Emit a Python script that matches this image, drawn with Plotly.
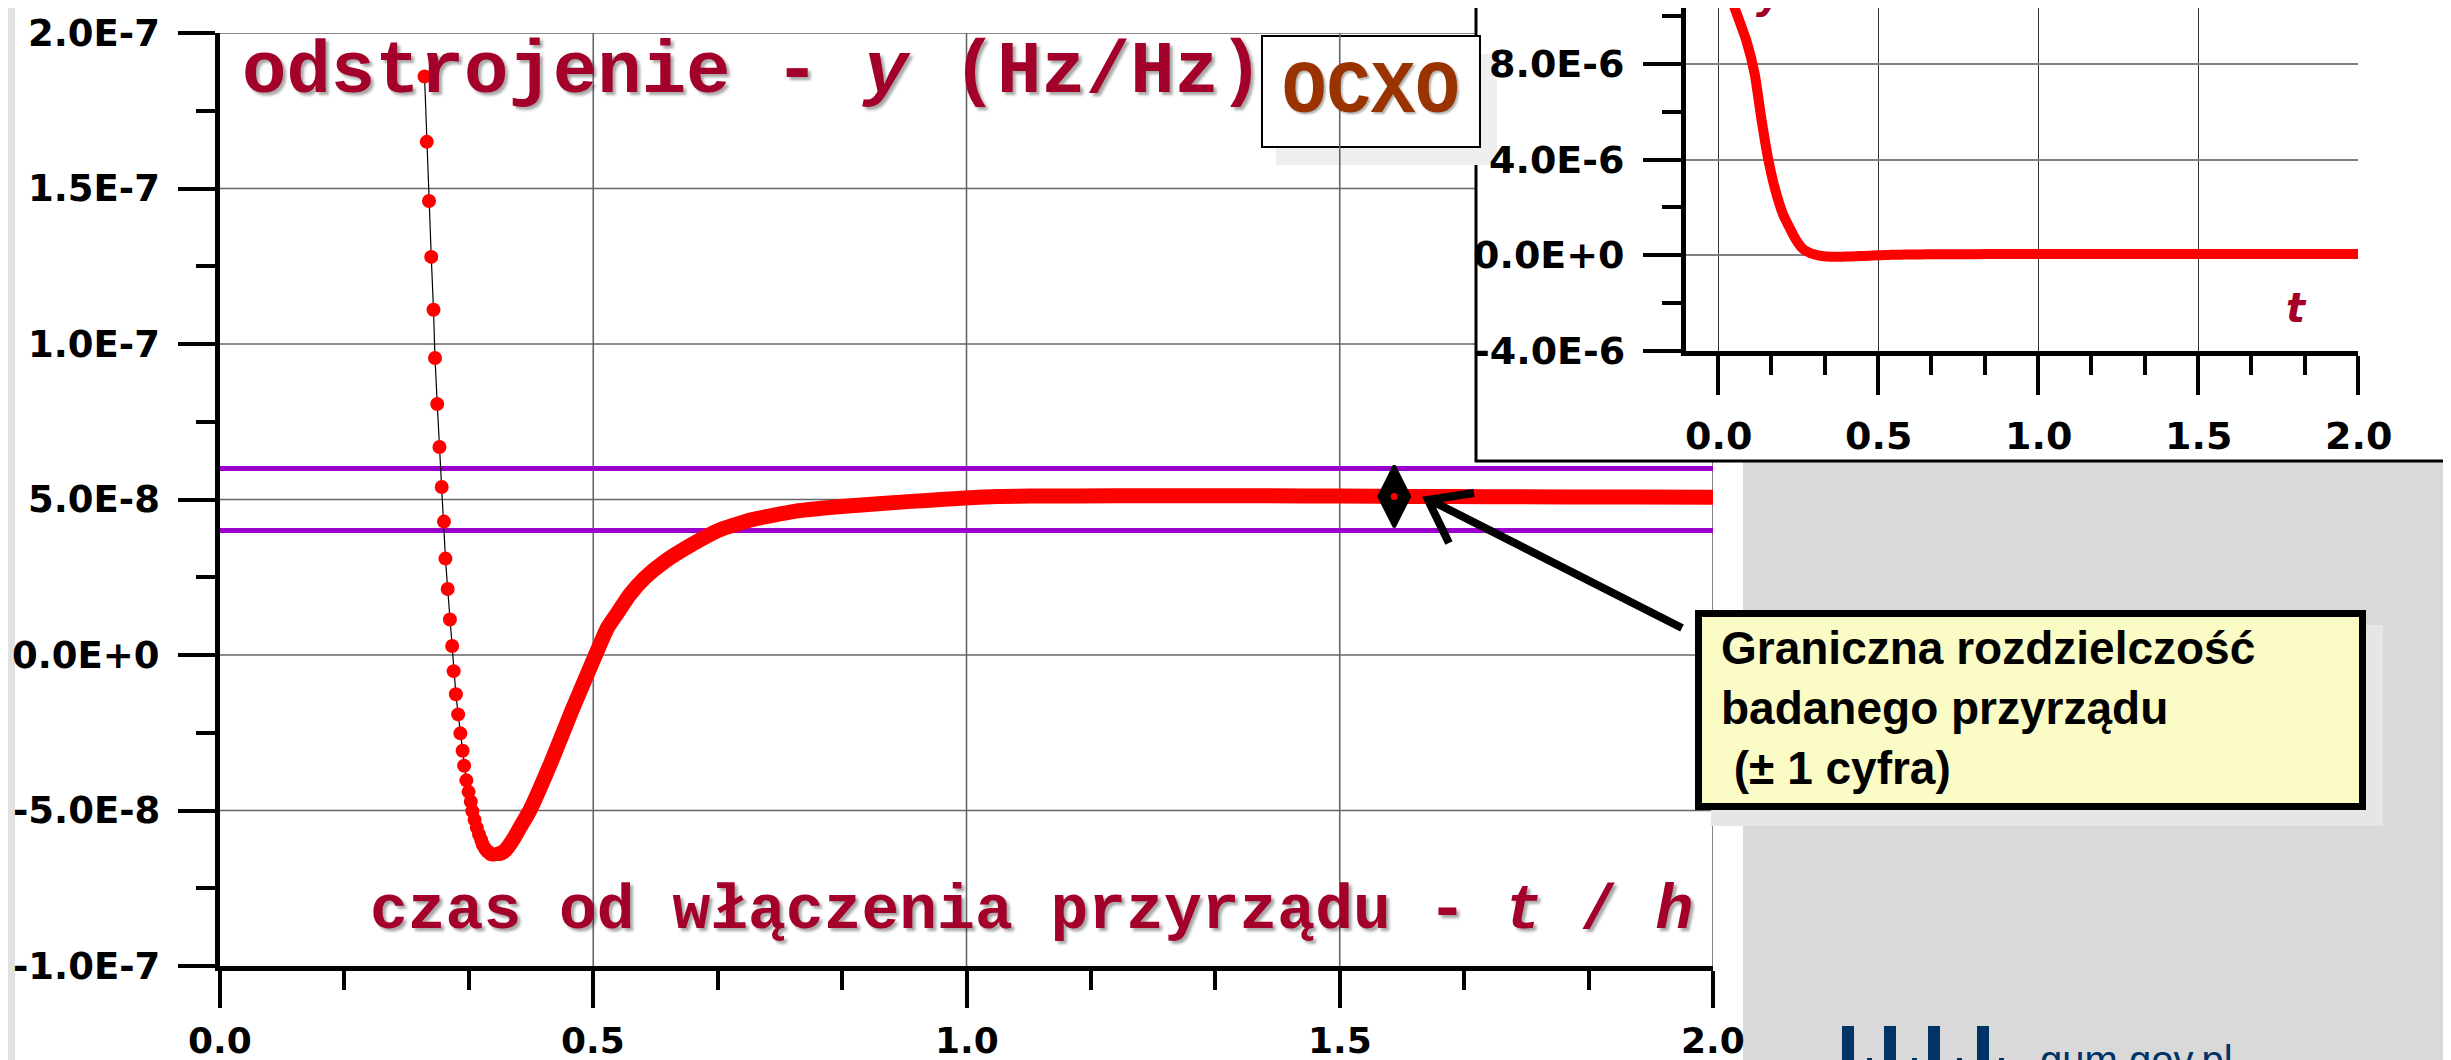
import plotly.graph_objects as go

W, H = 2451, 1060

# ---------------- data ----------------
# sparse dots at the beginning of the main chart (t in h, y in Hz/Hz)
t_early = [0.274, 0.277, 0.280, 0.283, 0.286, 0.288, 0.291, 0.294, 0.297, 0.300,
           0.302, 0.305, 0.308, 0.311, 0.313, 0.316, 0.319, 0.322, 0.325, 0.327,
           0.330, 0.333, 0.336, 0.338, 0.341, 0.344, 0.347, 0.350, 0.352, 0.355,
           0.358, 0.361, 0.363, 0.366, 0.369, 0.372]
y_early = [1.86e-7, 1.65e-7, 1.46e-7, 1.28e-7, 1.11e-7, 9.55e-8, 8.07e-8, 6.69e-8, 5.40e-8, 4.29e-8,
           3.10e-8, 2.12e-8, 1.14e-8, 0.29e-8, -0.52e-8, -1.26e-8, -1.91e-8, -2.52e-8, -3.08e-8, -3.56e-8,
           -4.03e-8, -4.40e-8, -4.72e-8, -5.02e-8, -5.30e-8, -5.55e-8, -5.77e-8, -5.95e-8, -6.10e-8, -6.22e-8,
           -6.31e-8, -6.37e-8, -6.41e-8, -6.42e-8, -6.41e-8, -6.40e-8]

# dense part (drawn as a thick band)
t_dense = [0.372, 0.378, 0.385, 0.393, 0.403, 0.415, 0.444, 0.471, 0.503, 0.519,
           0.533, 0.549, 0.569, 0.596, 0.632, 0.667, 0.712, 0.770, 0.837, 0.926,
           1.042, 1.100, 1.200, 1.300, 1.400, 1.500, 1.600, 1.700, 1.800, 1.900, 2.000]
y_dense = [-6.40e-8, -6.36e-8, -6.20e-8, -5.92e-8, -5.50e-8, -5.00e-8, -3.42e-8, -1.81e-8, 0.00e-8, 0.87e-8,
           1.37e-8, 1.94e-8, 2.48e-8, 3.01e-8, 3.55e-8, 4.00e-8, 4.35e-8, 4.62e-8, 4.78e-8, 4.94e-8,
           5.10e-8, 5.11e-8, 5.12e-8, 5.12e-8, 5.12e-8, 5.11e-8, 5.10e-8, 5.09e-8, 5.08e-8, 5.08e-8, 5.07e-8]

# warm-up part only visible in the inset
t_warm = [0.000, 0.030, 0.052, 0.089, 0.115, 0.135, 0.156, 0.177, 0.203, 0.240, 0.260]
y_warm = [1.16e-5, 1.11e-5, 1.033e-5, 8.95e-6, 7.55e-6, 5.75e-6, 4.08e-6, 2.83e-6, 1.72e-6, 0.73e-6, 0.34e-6]

# resolution limits (+/- 1 digit)
limit_x = [0.0, 2.0]
limit_hi = [6e-8, 6e-8]
limit_lo = [4e-8, 4e-8]

# highlighted point
mark_t = [1.573]
mark_y = [5.1e-8]

# ticks
main_xticks = [0.0, 0.5, 1.0, 1.5, 2.0]
main_xlabels = ["0.0", "0.5", "1.0", "1.5", "2.0"]
main_yticks = [-1e-7, -5e-8, 0.0, 5e-8, 1e-7, 1.5e-7, 2e-7]
main_ylabels = ["-1.0E-7", "-5.0E-8", "0.0E+0", "5.0E-8", "1.0E-7", "1.5E-7", "2.0E-7"]
main_yminor = [-7.5e-8, -2.5e-8, 2.5e-8, 7.5e-8, 1.25e-7, 1.75e-7]
inset_yticks = [-4e-6, 0.0, 4e-6, 8e-6]
inset_ylabels = ["-4.0E-6", "0.0E+0", "4.0E-6", "8.0E-6"]
inset_yminor = [-2e-6, 2e-6, 6e-6, 1e-5]
x_minor = [k / 6 for k in range(1, 12) if k % 3 != 0]

inset_t = t_warm + t_early + t_dense
inset_y = y_warm + y_early + y_dense

# ---------------- helpers ----------------
def px(x):
    return x / W


def py(y):
    return 1 - y / H


RED = "#FF0000"
DARKRED = "#A3002A"
FONT_FAM = "DejaVu Sans, Verdana, sans-serif"
TICKFONT = dict(family=FONT_FAM, size=37, color="black", weight="bold")
XTICKFONT = dict(family=FONT_FAM, size=36, color="black", weight="bold")
INSETFONT = dict(family=FONT_FAM, size=38, color="black", weight="bold")

fig = go.Figure()

# main chart traces
fig.add_trace(go.Scatter(x=limit_x, y=limit_hi, mode="lines", line=dict(color="#9900CC", width=5),
                         xaxis="x", yaxis="y", hoverinfo="skip"))
fig.add_trace(go.Scatter(x=limit_x, y=limit_lo, mode="lines", line=dict(color="#9900CC", width=5),
                         xaxis="x", yaxis="y", hoverinfo="skip"))
fig.add_trace(go.Scatter(x=t_dense, y=y_dense, mode="lines",
                         line=dict(color=RED, width=15, shape="spline", smoothing=0.5),
                         xaxis="x", yaxis="y"))
fig.add_trace(go.Scatter(x=t_early, y=y_early, mode="lines+markers",
                         line=dict(color="black", width=1.2),
                         marker=dict(color=RED, size=14, line=dict(width=0)),
                         xaxis="x", yaxis="y"))
fig.add_trace(go.Scatter(x=mark_t, y=mark_y, mode="markers",
                         marker=dict(symbol="diamond-tall", size=44, color="black",
                                     line=dict(color="black", width=3)),
                         xaxis="x", yaxis="y"))
fig.add_trace(go.Scatter(x=mark_t, y=mark_y, mode="markers",
                         marker=dict(symbol="circle", size=9, color=RED,
                                     line=dict(color="black", width=2)),
                         xaxis="x", yaxis="y"))

# inset trace
fig.add_trace(go.Scatter(x=inset_t, y=inset_y, mode="lines",
                         line=dict(color=RED, width=10, shape="spline", smoothing=0.5),
                         xaxis="x2", yaxis="y2"))

# ---------------- shapes ----------------
shapes = []
# left grey strip and grey region bottom-right
shapes.append(dict(type="rect", xref="paper", yref="paper", x0=0, x1=px(7), y0=0, y1=1,
                   fillcolor="#E2E2E2", line=dict(width=0), layer="below"))
shapes.append(dict(type="rect", xref="paper", yref="paper", x0=px(1735), x1=1, y0=0, y1=py(453),
                   fillcolor="#D9D9D9", line=dict(width=0), layer="below"))

GRID = dict(color="#666666", width=1.6)
# main horizontal grid lines (cut by the inset where needed)
for v in main_yticks[1:]:
    right = 1468 if v > 6e-8 else 1705
    shapes.append(dict(type="line", xref="paper", yref="y", x0=px(212), x1=px(right), y0=v, y1=v,
                       line=GRID, layer="below"))
# main vertical grid lines
for v in main_xticks[1:]:
    if v < 2.0:
        shapes.append(dict(type="line", xref="x", yref="y", x0=v, x1=v, y0=-1e-7, y1=2e-7,
                           line=GRID, layer="below"))
    else:
        shapes.append(dict(type="line", xref="x", yref="paper", x0=v, x1=v, y0=py(958), y1=py(453),
                           line=GRID, layer="below"))

# inset frame
shapes.append(dict(type="rect", xref="paper", yref="paper", x0=px(1468), x1=px(2448), y0=py(453), y1=py(-10),
                   fillcolor="white", line=dict(color="black", width=3), layer="below"))
# OCXO box with shadow
shapes.append(dict(type="rect", xref="paper", yref="paper", x0=px(1268), x1=px(1489), y0=py(157), y1=py(46),
                   fillcolor="#EFEFEF", line=dict(width=0), layer="below"))
shapes.append(dict(type="rect", xref="paper", yref="paper", x0=px(1254), x1=px(1472), y0=py(139), y1=py(28),
                   fillcolor="white", line=dict(color="black", width=2), layer="below"))
# yellow note with shadow
shapes.append(dict(type="rect", xref="paper", yref="paper", x0=px(1703), x1=px(2375), y0=py(818), y1=py(617),
                   fillcolor="#E6E6E6", line=dict(width=0), layer="above"))
shapes.append(dict(type="rect", xref="paper", yref="paper", x0=px(1690.5), x1=px(2354.5), y0=py(798.5), y1=py(605.5),
                   fillcolor="#FBFBC6", line=dict(color="black", width=7), layer="above"))
# arrow
arrow_path = (f"M {px(1674):.5f},{py(620):.5f} L {px(1422):.5f},{py(492):.5f} "
              f"M {px(1466):.5f},{py(485):.5f} L {px(1420):.5f},{py(492):.5f} L {px(1441):.5f},{py(535):.5f}")
shapes.append(dict(type="path", xref="paper", yref="paper", path=arrow_path,
                   line=dict(color="black", width=8), layer="above"))
# logo bars
LOGO = "#003366"
for xb, top, wdt in [(1834, 1018, 12), (1859, 1050, 5), (1876, 1018, 12), (1904, 1050, 5),
                     (1920, 1018, 12), (1949, 1050, 5), (1969, 1018, 12), (1991, 1050, 5)]:
    shapes.append(dict(type="rect", xref="paper", yref="paper", x0=px(xb), x1=px(xb + wdt),
                       y0=py(1062), y1=py(top), fillcolor=LOGO, line=dict(width=0), layer="above"))

# ---------------- annotations ----------------
annotations = []
# tick labels placed as text next to the plotly ticks
for v, lab in zip(main_yticks, main_ylabels):
    annotations.append(dict(xref="paper", yref="y", x=px(154), y=v, xanchor="right", yanchor="middle",
                            text=lab, showarrow=False, font=TICKFONT))
for v, lab in zip(main_xticks, main_xlabels):
    annotations.append(dict(xref="x", yref="paper", x=v, y=py(1032), xanchor="center", yanchor="middle",
                            text=lab, showarrow=False, font=XTICKFONT))
for v, lab in zip(inset_yticks, inset_ylabels):
    annotations.append(dict(xref="paper", yref="y2", x=px(1619), y=v, xanchor="right", yanchor="middle",
                            text=lab, showarrow=False, font=INSETFONT))
for v, lab in zip(main_xticks, main_xlabels):
    annotations.append(dict(xref="x2", yref="paper", x=v, y=py(428), xanchor="center", yanchor="middle",
                            text=lab, showarrow=False, font=INSETFONT))

SHADOW = "3px 3px 3px rgba(0,0,0,0.35)"
annotations.append(dict(xref="paper", yref="paper", x=px(232), y=py(64), xanchor="left", yanchor="middle",
                        text="odstrojenie - <i>y</i> (Hz/Hz)", showarrow=False,
                        font=dict(family="Courier New, Liberation Mono, monospace", size=74,
                                  color=DARKRED, weight="bold", shadow=SHADOW)))
annotations.append(dict(xref="paper", yref="paper", x=px(360), y=py(903), xanchor="left", yanchor="middle",
                        text="czas od włączenia przyrządu - <i>t</i> / <i>h</i>", showarrow=False,
                        font=dict(family="Courier New, Liberation Mono, monospace", size=63,
                                  color=DARKRED, weight="bold", shadow=SHADOW)))
annotations.append(dict(xref="paper", yref="paper", x=px(1363), y=py(84), xanchor="center", yanchor="middle",
                        text="OCXO", showarrow=False,
                        font=dict(family="Courier New, Liberation Mono, monospace", size=74,
                                  color="#993300", weight="bold", shadow="2px 2px 2px rgba(0,0,0,0.3)")))
annotations.append(dict(xref="paper", yref="paper", x=px(2288), y=py(300), xanchor="center", yanchor="middle",
                        text="<i>t</i>", showarrow=False,
                        font=dict(family=FONT_FAM, size=40, color=DARKRED, weight="bold")))
annotations.append(dict(xref="paper", yref="paper", x=px(1762), y=py(-14), xanchor="center", yanchor="middle",
                        text="<i>y</i>", showarrow=False,
                        font=dict(family=FONT_FAM, size=40, color=DARKRED, weight="bold")))
annotations.append(dict(xref="paper", yref="paper", x=px(1711), y=py(700), xanchor="left", yanchor="middle",
                        align="left",
                        text="Graniczna rozdzielczość<br>badanego przyrządu<br>\u00a0(± 1 cyfra)", showarrow=False,
                        font=dict(family="Liberation Sans Narrow, Arial Narrow, Liberation Sans, Arial, sans-serif",
                                  size=46, color="black", weight="bold")))
annotations.append(dict(xref="paper", yref="paper", x=px(2030), y=py(1052), xanchor="left", yanchor="middle",
                        text="gum.gov.pl", showarrow=False,
                        font=dict(family="Liberation Sans, Arial, sans-serif", size=40, color=LOGO)))

minor_common = dict(ticks="outside", ticklen=19, tickwidth=4, tickcolor="black", showgrid=False)
axis_common = dict(ticks="outside", tickwidth=4, tickcolor="black", showticklabels=False,
                   showline=True, linewidth=5, linecolor="black", zeroline=False,
                   automargin=False, fixedrange=True, tickmode="array")

fig.update_layout(
    width=W, height=H, autosize=False,
    margin=dict(l=0, r=0, t=0, b=0, pad=0),
    paper_bgcolor="white", plot_bgcolor="rgba(0,0,0,0)",
    showlegend=False,
    shapes=shapes, annotations=annotations,
    xaxis=dict(domain=[px(212), px(1705)], range=[0, 2.0], anchor="y",
               tickvals=main_xticks, ticklen=37, showgrid=False,
               minor=dict(tickmode="array", tickvals=x_minor, **minor_common), **axis_common),
    yaxis=dict(domain=[py(958), py(25)], range=[-1e-7, 2e-7], anchor="x",
               tickvals=main_yticks, ticklen=37, showgrid=False,
               minor=dict(tickmode="array", tickvals=main_yminor, **minor_common), **axis_common),
    xaxis2=dict(domain=[px(1678), px(2350)], range=[-0.1, 2.0], anchor="y2",
                tickvals=main_xticks, ticklen=39,
                showgrid=True, gridcolor="#333333", gridwidth=1,
                minor=dict(tickmode="array", tickvals=x_minor, **minor_common), **axis_common),
    yaxis2=dict(domain=[py(343), 1.0], range=[-4e-6, 1.033e-5], anchor="x2",
                tickvals=inset_yticks, ticklen=38,
                showgrid=True, gridcolor="#808080", gridwidth=2,
                minor=dict(tickmode="array", tickvals=inset_yminor, **minor_common), **axis_common),
)

fig.write_html("out.html")
